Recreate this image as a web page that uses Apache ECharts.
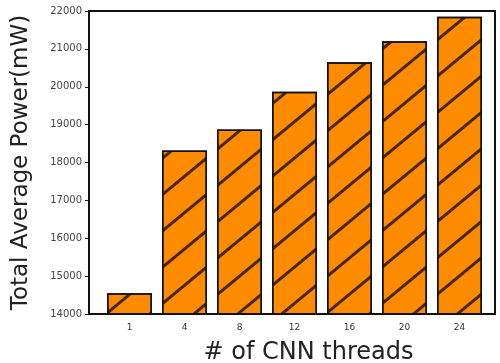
<!DOCTYPE html>
<html>
<head>
<meta charset="utf-8">
<script src="https://cdn.jsdelivr.net/npm/echarts@6/dist/echarts.min.js"></script>
<style>
  html, body { margin: 0; padding: 0; background: #fff; }
</style>
</head>
<body>
<div id="main" style="width: 500px; height: 363px;"></div>
<script>
// 数据
var threads = ['1', '4', '8', '12', '16', '20', '24'];
var power = [14550, 18320, 18870, 19870, 20650, 21200, 21850];
var yTicks = [14000, 22000, 1000]; // min, max, step

var chart = echarts.init(document.getElementById('main'));

var option = {
    animation: false,
    grid: {
        left: 102,
        right: 13,
        top: 11,
        bottom: 49,
        outerBoundsMode: 'none'
    },
    xAxis: {
        type: 'category',
        data: threads,
        name: '# of CNN threads',
        nameLocation: 'middle',
        nameGap: 27,
        nameTextStyle: {
            fontFamily: 'DejaVu Sans',
            fontSize: 24,
            color: '#222',
            padding: [0, 0, 0, 28]
        },
        axisLine: { show: false },
        axisTick: {
            alignWithLabel: true,
            length: 4,
            lineStyle: { color: '#222' }
        },
        axisLabel: {
            fontFamily: 'DejaVu Sans',
            fontSize: 9,
            color: '#333',
            margin: 9
        }
    },
    yAxis: {
        type: 'value',
        min: yTicks[0],
        max: yTicks[1],
        interval: yTicks[2],
        offset: 13,
        name: 'Total Average Power(mW)',
        nameLocation: 'middle',
        nameGap: 56,
        nameTextStyle: {
            fontFamily: 'DejaVu Sans',
            fontSize: 23,
            color: '#222'
        },
        axisLine: { show: false },
        axisTick: {
            show: true,
            length: 4,
            lineStyle: { color: '#222' }
        },
        splitLine: { show: false },
        axisLabel: {
            fontFamily: 'DejaVu Sans',
            fontSize: 10,
            color: '#444',
            margin: 7,
            formatter: function (v) { return String(v); }
        }
    },
    series: [{
        type: 'bar',
        data: power,
        barWidth: 45,
        itemStyle: {
            color: '#ff8c00',
            borderColor: '#111',
            borderWidth: 1.5,
            decal: {
                symbol: 'rect',
                symbolSize: 1,
                dashArrayX: [1, 0],
                dashArrayY: [3, 25],
                rotation: -Math.PI * 0.22,
                color: 'rgba(40,20,0,0.85)'
            }
        }
    }],
    // 外框
    graphic: [{
        type: 'rect',
        z: 100,
        shape: { x: 89, y: 11, width: 406, height: 303 },
        style: { fill: null, stroke: '#111', lineWidth: 2 }
    }]
};

chart.setOption(option);
</script>
</body>
</html>
